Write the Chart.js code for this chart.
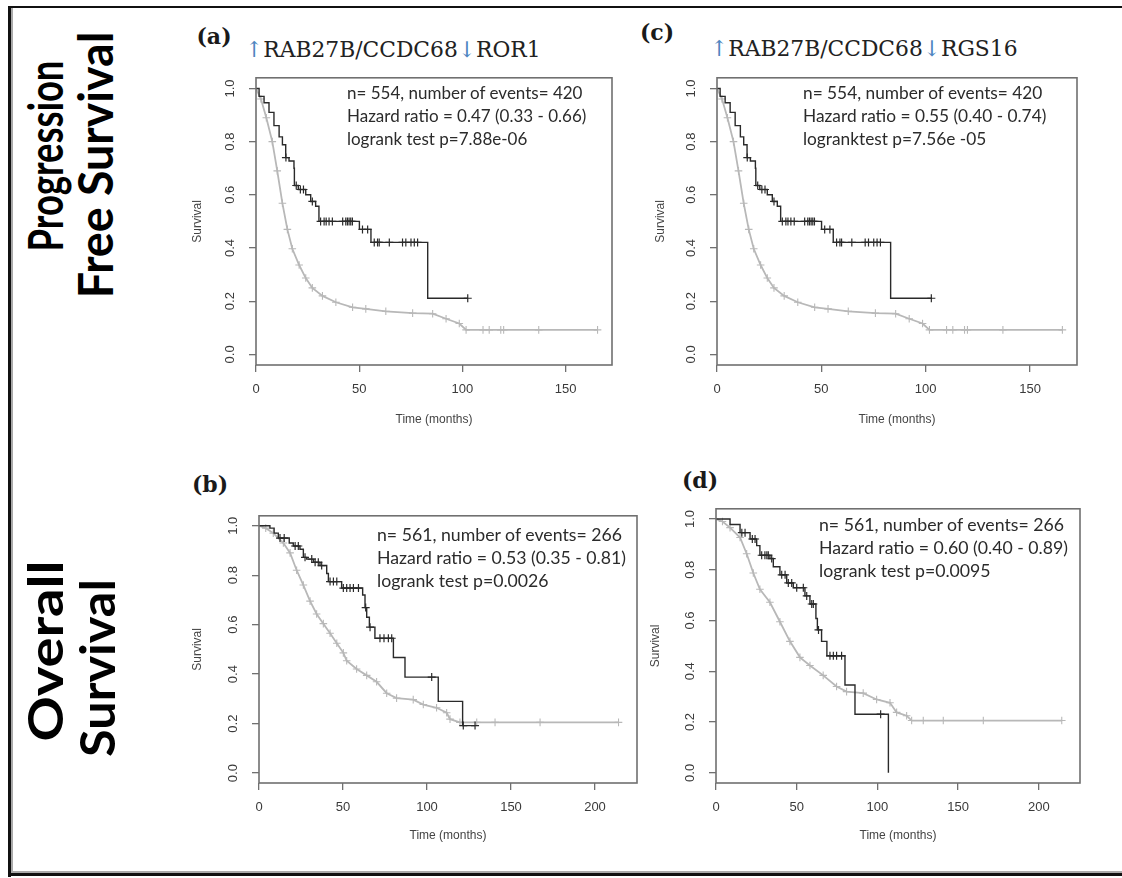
<!DOCTYPE html>
<html>
<head>
<meta charset="utf-8">
<script src="https://cdn.jsdelivr.net/npm/chart.js@4.4.1/dist/chart.umd.min.js"></script>
<style>
html,body{margin:0;padding:0;background:#fff;}
body{width:1122px;height:878px;position:relative;overflow:hidden;}
canvas{position:absolute;}
.ln{position:absolute;}
.note{position:absolute;font-family:Lato,"Open Sans",sans-serif;font-size:17px;line-height:23px;color:#2b2b2b;white-space:nowrap;}
.plab{position:absolute;font-family:"DejaVu Serif",serif;font-weight:bold;font-size:22px;color:#1a1a1a;transform:translate(-50%,-50%);white-space:nowrap;}
.ttl{position:absolute;font-family:"DejaVu Serif",serif;font-size:21.8px;color:#222;transform:translateY(-50%);white-space:nowrap;}
.arr{color:#4f86c0;}
.side{position:absolute;font-family:Lato,sans-serif;font-weight:bold;font-size:48px;color:#000;white-space:nowrap;line-height:1;}
</style>
</head>
<body>
<!-- frame -->
<div class="ln" style="left:9px;top:6px;width:1113px;height:2px;background:#111"></div>
<div class="ln" style="left:8px;top:6px;width:3px;height:871px;background:#111"></div>
<div class="ln" style="left:11px;top:8px;width:2px;height:863px;background:#aaa"></div>
<div class="ln" style="left:11px;top:871px;width:1111px;height:2px;background:#aaa"></div>
<div class="ln" style="left:8px;top:873px;width:1114px;height:3px;background:#111"></div>

<div class="side" style="left:45px;top:156px;transform:translate(-50%,-50%) rotate(-90deg) scaleX(0.76)">Progression</div>
<div class="side" style="left:95px;top:165px;transform:translate(-50%,-50%) rotate(-90deg) scaleX(0.97)">Free Survival</div>
<div class="side" style="left:45px;top:651px;transform:translate(-50%,-50%) rotate(-90deg) scaleX(1.17)">Overall</div>
<div class="side" style="left:97px;top:668px;transform:translate(-50%,-50%) rotate(-90deg) scaleX(1.05)">Survival</div>

<div class="plab" style="left:214px;top:36px">(a)</div>
<div class="ttl" style="left:245px;top:49px"><span class="arr">↑</span>RAB27B/CCDC68<span class="arr">↓</span>ROR1</div>
<div class="plab" style="left:657px;top:32px">(c)</div>
<div class="ttl" style="left:710px;top:48px"><span class="arr">↑</span>RAB27B/CCDC68<span class="arr">↓</span>RGS16</div>
<div class="plab" style="left:210px;top:484px">(b)</div>
<div class="plab" style="left:700px;top:480px">(d)</div>

<canvas id="ca"></canvas>
<canvas id="cc"></canvas>
<canvas id="cb"></canvas>
<canvas id="cd"></canvas>

<div class="note" style="left:347px;top:81px;font-size:17px">n= 554, number of events= 420<br>Hazard ratio = 0.47 (0.33 - 0.66)<br>logrank test p=7.88e-06</div>
<div class="note" style="left:803px;top:81px;font-size:17.3px">n= 554, number of events= 420<br>Hazard ratio = 0.55 (0.40 - 0.74)<br>logranktest p=7.56e -05</div>
<div class="note" style="left:377px;top:523px;font-size:17.7px">n= 561, number of events= 266<br>Hazard ratio = 0.53 (0.35 - 0.81)<br>logrank test p=0.0026</div>
<div class="note" style="left:819px;top:513px;font-size:17.7px">n= 561, number of events= 266<br>Hazard ratio = 0.60 (0.40 - 0.89)<br>logrank test p=0.0095</div>

<script>
// ---------- tick labels ----------
const Y_TICKS = [0, 0.2, 0.4, 0.6, 0.8, 1.0];
const PFS_X_TICKS = [0, 50, 100, 150];
const OS_X_TICKS = [0, 50, 100, 150, 200];

// ---------- (a) PFS, RAB27B/CCDC68 vs ROR1 ----------
const aHighT = [0, 1.5, 3.9, 6.3, 8.7, 11.2, 12.8, 14.4, 16, 18.4, 18.6, 20.5, 24.1, 26.5, 28.9, 30.5, 50.1, 55.7, 83.2, 102.6];
const aHighS = [1.0, 0.97, 0.946, 0.91, 0.86, 0.818, 0.788, 0.74, 0.727, 0.70, 0.635, 0.62, 0.60, 0.575, 0.557, 0.50, 0.47, 0.421, 0.211, 0.211];
const aHighCens = [14.5, 19.5, 21.5, 23, 27.3, 31.3, 33, 34, 35.4, 37, 42, 43.5, 44.3, 45.1, 45.9, 46.7, 51.6, 54.1, 57.3, 58.9, 59.7, 64.6, 71, 72.6, 75.1, 76.7, 78.3, 102.6];
const aLowT = [0, 2.4, 5, 7.9, 10.3, 12.8, 15.2, 17.6, 20.9, 24.1, 27.3, 32.2, 38.7, 46.8, 53.2, 62.9, 75.9, 85.6, 92.1, 98.5, 101.8, 110, 113, 118.6, 120, 137, 165.5];
const aLowS = [1, 0.96, 0.89, 0.80, 0.69, 0.568, 0.47, 0.397, 0.336, 0.287, 0.25, 0.22, 0.196, 0.177, 0.171, 0.162, 0.155, 0.153, 0.134, 0.116, 0.092, 0.092, 0.092, 0.092, 0.092, 0.092, 0.092];

// ---------- (c) PFS, RAB27B/CCDC68 vs RGS16 ----------
const cHighT = [0, 1.5, 3.9, 6.3, 8.7, 11.2, 12.8, 14.4, 16, 18.4, 18.6, 20.5, 24.1, 26.5, 28.9, 30.5, 50.1, 55.7, 83.2, 102.7];
const cHighS = [1.0, 0.97, 0.946, 0.91, 0.86, 0.818, 0.788, 0.74, 0.727, 0.70, 0.635, 0.62, 0.60, 0.575, 0.557, 0.50, 0.47, 0.421, 0.211, 0.211];
const cHighCens = [14.5, 19.5, 21.5, 23, 27.3, 31.3, 33, 34, 35.4, 37, 42, 43.5, 44.3, 45.1, 45.9, 46.7, 51.6, 54.1, 57.3, 58.9, 59.7, 64.6, 71, 72.6, 75.1, 76.7, 78.3, 102.7];
const cLowT = [0, 2.4, 5, 7.9, 10.3, 12.8, 15.2, 17.6, 20.9, 24.1, 27.3, 32.2, 38.7, 46.8, 53.2, 62.9, 75.9, 85.6, 92.1, 98.5, 101.8, 110, 113, 118.6, 120, 137, 165.5];
const cLowS = [1, 0.96, 0.89, 0.80, 0.69, 0.568, 0.47, 0.397, 0.336, 0.287, 0.25, 0.22, 0.196, 0.177, 0.171, 0.162, 0.155, 0.153, 0.134, 0.116, 0.092, 0.092, 0.092, 0.092, 0.092, 0.092, 0.092];

// ---------- (b) OS, RAB27B/CCDC68 vs ROR1 ----------
const bHighT = [0, 6.5, 9, 11.5, 18, 20.4, 24.4, 26.4, 28.4, 32.4, 36.3, 40.3, 41.3, 49.2, 61.7, 63.1, 64.1, 65.7, 69, 80, 86.9, 106.7, 121.2, 128.6];
const bHighS = [1, 0.99, 0.97, 0.95, 0.93, 0.918, 0.905, 0.872, 0.865, 0.852, 0.839, 0.807, 0.774, 0.748, 0.72, 0.669, 0.63, 0.59, 0.545, 0.467, 0.388, 0.29, 0.192, 0.192];
const bHighCens = [12.5, 15, 21.5, 23.4, 27.4, 31.4, 33.4, 35.3, 37.3, 42.3, 44.3, 46.3, 50.2, 52.2, 54.2, 56.2, 59.2, 63.5, 66.1, 72, 74.4, 77, 79, 102.8, 121.6, 128.6];
const bLowT = [0, 4, 8.5, 14.5, 18.5, 22.4, 26.4, 30.4, 34.3, 38.3, 42.3, 46.3, 50.2, 52.2, 58.1, 64.1, 70, 76, 81.9, 91.8, 97.8, 105.7, 111.7, 113.7, 119.6, 129.6, 140.5, 167.3, 214];
const bLowS = [1, 0.99, 0.97, 0.93, 0.89, 0.82, 0.76, 0.695, 0.643, 0.604, 0.565, 0.525, 0.486, 0.454, 0.421, 0.395, 0.369, 0.323, 0.303, 0.297, 0.277, 0.264, 0.244, 0.218, 0.205, 0.205, 0.205, 0.205, 0.205];

// ---------- (d) OS, RAB27B/CCDC68 vs RGS16 ----------
const dHighT = [0, 8.7, 14.9, 21.1, 25.2, 27.2, 33.4, 35.5, 39.6, 43.8, 47.9, 55.1, 58.2, 61.9, 62.8, 65.4, 68.7, 79.9, 86.1, 106.8];
const dHighS = [1, 0.978, 0.946, 0.921, 0.895, 0.857, 0.844, 0.812, 0.78, 0.748, 0.729, 0.697, 0.665, 0.608, 0.563, 0.518, 0.461, 0.346, 0.231, 0.0];
const dHighCens = [16, 18, 22.5, 24.2, 28.3, 30.3, 31.5, 32.4, 34.5, 40.7, 42.8, 44.8, 46.9, 50, 54.1, 56.2, 59.3, 60.3, 63.5, 70.6, 72.7, 74.7, 77.8, 102];
const dLowT = [0, 4, 8.7, 14.9, 19, 23.1, 27.2, 33.4, 39.6, 45.8, 52, 58.2, 66.4, 74.7, 80.9, 91.2, 99.5, 107.8, 111.9, 118.1, 121.2, 128.4, 140.8, 165.6, 214.2];
const dLowS = [1, 0.99, 0.966, 0.927, 0.863, 0.787, 0.723, 0.672, 0.595, 0.518, 0.455, 0.423, 0.384, 0.34, 0.32, 0.314, 0.289, 0.276, 0.238, 0.225, 0.206, 0.206, 0.206, 0.206, 0.206];

// ---------- styling ----------
const BLACK = '#2a2a2a';
const GREY = '#b8b8b8';
const AXC = '#707070';
const TICKFONT = {family: '"Liberation Sans", Arial, sans-serif', size: 13};
const TITLEFONT = {family: '"Liberation Sans", Arial, sans-serif', size: 12};

function stepAt(ts, ss, t) {
  let v = ss[0];
  for (let i = 0; i < ts.length; i++) { if (ts[i] <= t) v = ss[i]; }
  return v;
}

const boxPlugin = {
  id: 'rbox',
  afterDraw(chart) {
    const a = chart.chartArea, ctx = chart.ctx;
    ctx.save();
    ctx.strokeStyle = AXC;
    ctx.lineWidth = 1.6;
    ctx.strokeRect(a.left, a.top, a.right - a.left, a.bottom - a.top);
    ctx.restore();
  }
};

function panel(id, geo, hT, hS, hC, lT, lS, xTicks, xMax) {
  const el = document.getElementById(id);
  const left = geo.boxL - geo.wy;
  const top = geo.boxT - 10;
  const width = geo.boxR + 10 - left;
  const height = geo.boxB + geo.hx - top;
  el.style.left = left + 'px';
  el.style.top = top + 'px';
  el.width = width; el.height = height;
  el.style.width = width + 'px'; el.style.height = height + 'px';

  new Chart(el, {
    type: 'line',
    data: {
      datasets: [
        { data: hT.map((t, i) => ({x: t, y: hS[i]})), stepped: 'before', borderColor: BLACK, borderWidth: 1.4, pointRadius: 0, fill: false },
        { data: hC.map(t => ({x: t, y: stepAt(hT, hS, t)})), showLine: false, pointStyle: 'cross', pointRadius: 4, pointBorderColor: BLACK, pointBorderWidth: 1.2, pointBackgroundColor: BLACK },
        { data: lT.map((t, i) => ({x: t, y: lS[i]})), borderColor: GREY, borderWidth: 1.8, pointStyle: 'cross',
          pointRadius: c => (c.dataIndex === 0 ? 0 : 3.8), pointBorderColor: GREY, pointBorderWidth: 1.1, tension: 0, fill: false }
      ]
    },
    options: {
      responsive: false, animation: false, devicePixelRatio: 1,
      events: [],
      layout: { autoPadding: false, padding: {left: 0, top: 10, right: 10, bottom: 0} },
      plugins: { legend: {display: false}, tooltip: {enabled: false} },
      scales: {
        x: {
          type: 'linear', min: 0, max: xMax,
          afterBuildTicks: s => { s.ticks = xTicks.map(v => ({value: v})); },
          afterFit: s => { s.height = geo.hx; },
          grid: { drawOnChartArea: false, drawTicks: true, tickLength: 7, color: AXC, lineWidth: 1.3 },
          border: { display: false },
          ticks: { font: TICKFONT, color: '#3a3a3a', padding: 10, maxRotation: 0, minRotation: 0, autoSkip: false },
          title: { display: true, text: 'Time (months)', font: TITLEFONT, color: '#444', padding: 0 }
        },
        y: {
          type: 'linear', min: -0.04, max: 1.04,
          afterBuildTicks: s => { s.ticks = Y_TICKS.map(v => ({value: v})); },
          afterFit: s => { s.width = geo.wy; },
          grid: { drawOnChartArea: false, drawTicks: true, tickLength: 7, color: AXC, lineWidth: 1.3 },
          border: { display: false },
          ticks: { font: TICKFONT, color: '#3a3a3a', padding: 10, minRotation: 90, maxRotation: 90, crossAlign: 'center', autoSkip: false,
                   callback: v => Number(v).toFixed(1) },
          title: { display: true, text: 'Survival', font: TITLEFONT, color: '#444', padding: 0 }
        }
      }
    },
    plugins: [boxPlugin]
  });
}

panel('ca', {boxL: 256, boxT: 70, boxR: 612, boxB: 365, wy: 66, hx: 62}, aHighT, aHighS, aHighCens, aLowT, aLowS, PFS_X_TICKS, 172.5);
panel('cc', {boxL: 717, boxT: 70, boxR: 1077, boxB: 365, wy: 64, hx: 62}, cHighT, cHighS, cHighCens, cLowT, cLowS, PFS_X_TICKS, 172.5);
panel('cb', {boxL: 259, boxT: 508, boxR: 637, boxB: 783, wy: 69, hx: 60}, bHighT, bHighS, bHighCens, bLowT, bLowS, OS_X_TICKS, 225);
panel('cd', {boxL: 716, boxT: 501, boxR: 1080, boxB: 783, wy: 68, hx: 60}, dHighT, dHighS, dHighCens, dLowT, dLowS, OS_X_TICKS, 225.5);
</script>
</body>
</html>
